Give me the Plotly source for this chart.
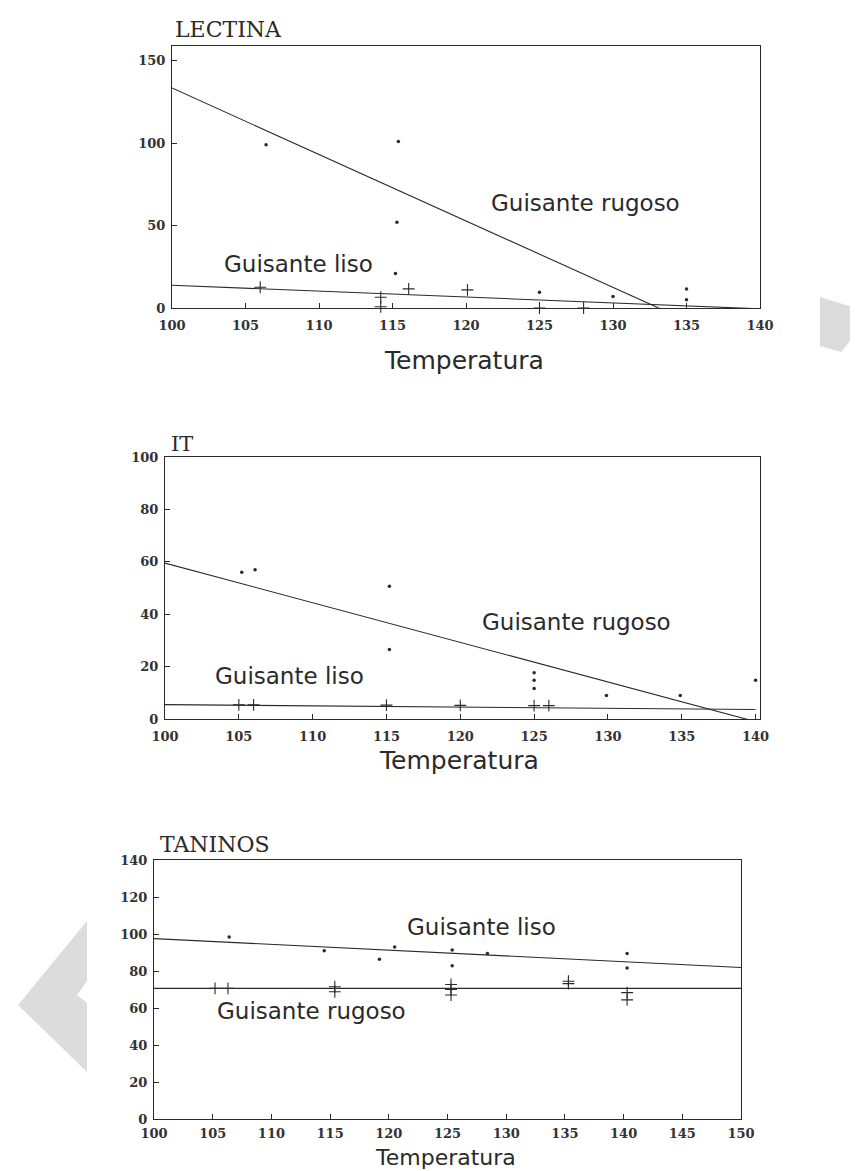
import plotly.graph_objects as go

W, H = 858, 1171

# ---------------- DATA ----------------
# LECTINA
lec_rug_x = [106.4, 115.4, 115.3, 115.2, 125, 130, 135, 135]
lec_rug_y = [99, 101, 52, 21, 9.5, 7, 11.6, 5]
lec_rug_fit_x = [100, 133.6]
lec_rug_fit_y = [133.5, -2]
lec_lis_x = [106, 114.2, 114.2, 116.1, 120.1, 125, 128]
lec_lis_y = [12.6, 6.5, 0.8, 11.6, 11, 0, 0]
lec_lis_fit_x = [100, 140]
lec_lis_fit_y = [13.8, -0.5]

# IT
it_rug_x = [105.2, 106.1, 115.2, 115.2, 125, 125, 125, 129.9, 134.9, 140]
it_rug_y = [56, 57, 50.7, 26.5, 17.7, 14.8, 11.6, 9, 9, 14.8]
it_rug_fit_x = [100, 140]
it_rug_fit_y = [59.5, -1]
it_lis_x = [105, 106, 115, 120, 125, 126]
it_lis_y = [5.4, 5.4, 5.3, 5.2, 5.1, 5.1]
it_lis_fit_x = [100, 140]
it_lis_fit_y = [5.5, 3.6]

# TANINOS
tan_lis_x = [106.4, 114.5, 119.2, 120.5, 125.4, 125.4, 128.4, 140.3, 140.3]
tan_lis_y = [98.4, 91, 86.3, 93, 91.3, 82.8, 89.5, 89.5, 81.6]
tan_lis_fit_x = [100, 150]
tan_lis_fit_y = [97.5, 81.9]
tan_rug_x = [105.2, 106.3, 115.4, 115.4, 125.3, 125.3, 125.3, 135.3, 135.3, 140.3, 140.3]
tan_rug_y = [70.6, 70.6, 71.5, 68.8, 72.7, 70, 67, 74.5, 73.2, 68.3, 64.4]
tan_rug_fit_x = [100, 150]
tan_rug_fit_y = [70.6, 70.6]

x_ticks_140 = [100, 105, 110, 115, 120, 125, 130, 135, 140]
x_ticks_150 = [100, 105, 110, 115, 120, 125, 130, 135, 140, 145, 150]
lec_y_ticks = [0, 50, 100, 150]
it_y_ticks = [0, 20, 40, 60, 80, 100]
tan_y_ticks = [0, 20, 40, 60, 80, 100, 120, 140]

titles = ["LECTINA", "IT", "TANINOS"]
x_title = "Temperatura"

# ---------------- LAYOUT HELPERS ----------------
def px_x(p):
    return p / W

def px_y(p):
    return 1 - p / H

INK = "#2a2a2a"

fig = go.Figure()

def dots(x, y, ax):
    fig.add_trace(go.Scatter(x=x, y=y, mode="markers", xaxis=ax[0], yaxis=ax[1],
                             marker=dict(symbol="circle", size=3.5, color=INK),
                             cliponaxis=False, showlegend=False, hoverinfo="skip"))

def plus(x, y, ax):
    fig.add_trace(go.Scatter(x=x, y=y, mode="markers", xaxis=ax[0], yaxis=ax[1],
                             marker=dict(symbol="cross-thin", size=8.5, color=INK,
                                         line=dict(width=1.1, color=INK)),
                             cliponaxis=False, showlegend=False, hoverinfo="skip"))

def fit(x, y, ax):
    fig.add_trace(go.Scatter(x=x, y=y, mode="lines", xaxis=ax[0], yaxis=ax[1],
                             line=dict(color=INK, width=1.1),
                             showlegend=False, hoverinfo="skip"))

A1, A2, A3 = ("x", "y"), ("x2", "y2"), ("x3", "y3")

dots(lec_rug_x, lec_rug_y, A1)
plus(lec_lis_x, lec_lis_y, A1)
fit(lec_rug_fit_x, lec_rug_fit_y, A1)
fit(lec_lis_fit_x, lec_lis_fit_y, A1)

dots(it_rug_x, it_rug_y, A2)
plus(it_lis_x, it_lis_y, A2)
fit(it_rug_fit_x, it_rug_fit_y, A2)
fit(it_lis_fit_x, it_lis_fit_y, A2)

dots(tan_lis_x, tan_lis_y, A3)
plus(tan_rug_x, tan_rug_y, A3)
fit(tan_lis_fit_x, tan_lis_fit_y, A3)
fit(tan_rug_fit_x, tan_rug_fit_y, A3)

tickfont = dict(family="DejaVu Serif", size=13, color="#333", weight="bold")
common = dict(showline=True, linecolor=INK, linewidth=1, mirror=True,
              ticks="inside", ticklen=5, tickcolor=INK, tickwidth=1,
              showgrid=False, zeroline=False, tickfont=tickfont,
              automargin=False, fixedrange=True)

def xax(dom, rng, tv, anchor, standoff=5):
    d = dict(common)
    d.update(domain=[px_x(dom[0]), px_x(dom[1])], range=rng, tickvals=tv,
             anchor=anchor, ticklabelstandoff=standoff)
    return d

def yax(dom, rng, tv, anchor):
    d = dict(common)
    d.update(domain=[px_y(dom[1]), px_y(dom[0])], range=rng, tickvals=tv,
             anchor=anchor, ticklabelstandoff=3)
    return d

fig.update_layout(
    width=W, height=H,
    margin=dict(l=0, r=0, t=0, b=0),
    paper_bgcolor="white", plot_bgcolor="white",
    xaxis=xax((164, 752), [100, 140], x_ticks_140, "y"),
    yaxis=yax((38, 300), [0, 159], lec_y_ticks, "x"),
    xaxis2=xax((157, 752), [100, 140.3], x_ticks_140, "y2"),
    yaxis2=yax((449, 711), [0, 100], it_y_ticks, "x2"),
    xaxis3=xax((146, 733), [100, 150], x_ticks_150, "y3", standoff=2),
    yaxis3=yax((852, 1111), [0, 140], tan_y_ticks, "x3"),
)

def text(s, x, y, size, family="DejaVu Sans", xanchor="left", yanchor="middle"):
    fig.add_annotation(text=s, x=px_x(x), y=px_y(y), xref="paper", yref="paper",
                       xanchor=xanchor, yanchor=yanchor, showarrow=False,
                       font=dict(family=family, size=size, color=INK))

# chart titles
text(titles[0], 165, 22, 22, family="DejaVu Serif")
text(titles[1], 161, 436, 21, family="DejaVu Serif")
text(titles[2], 150, 836, 22, family="DejaVu Serif")

# series labels
text("Guisante rugoso", 481, 195, 23)
text("Guisante liso", 214, 256, 23)
text("Guisante rugoso", 472, 614, 23)
text("Guisante liso", 205, 668, 23)
text("Guisante liso", 397, 919, 23)
text("Guisante rugoso", 207, 1003, 23)

# axis titles
text(x_title, 456, 352, 25, xanchor="center")
text(x_title, 451, 752, 25, xanchor="center")
text(x_title, 437, 1164, 22, xanchor="center", yanchor="bottom")

# grey decorative polygons
def poly(pts):
    path = "M " + " L ".join(f"{px_x(a):.4f},{px_y(b):.4f}" for a, b in pts) + " Z"
    fig.add_shape(type="path", path=path, xref="paper", yref="paper",
                  fillcolor="#dcdcdc", line=dict(width=0), layer="below")

poly([(812, 289), (858, 303), (858, 313), (833, 344), (812, 338)])
poly([(79, 913), (10, 997), (79, 1064), (79, 995), (69, 987), (79, 973)])

fig.write_html("out.html")
